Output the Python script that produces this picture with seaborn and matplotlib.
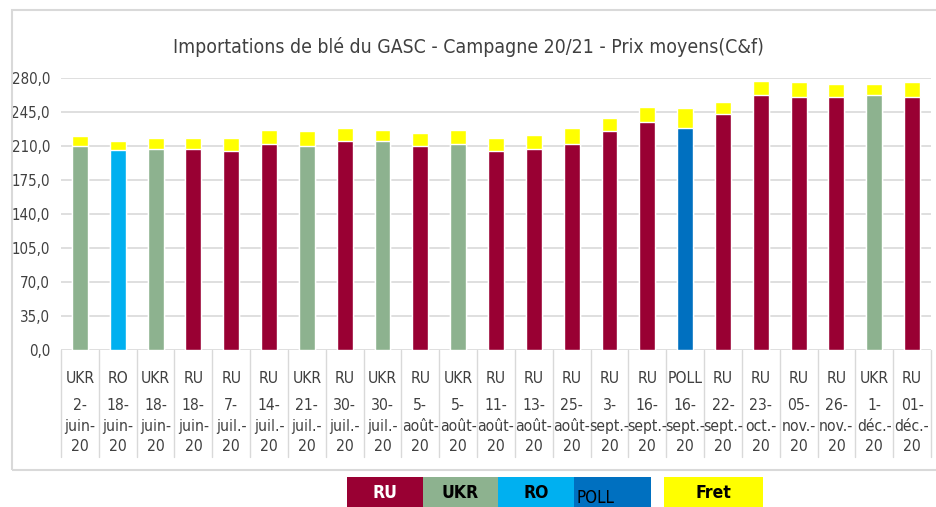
import matplotlib
matplotlib.use('Agg')
import matplotlib.pyplot as plt
from matplotlib import font_manager as fm
from matplotlib.patches import Rectangle
from matplotlib.transforms import blended_transform_factory
import seaborn as sns
import pandas as pd

origins = ['UKR', 'RO', 'UKR', 'RU', 'RU', 'RU', 'UKR', 'RU', 'UKR', 'RU', 'UKR', 'RU',
           'RU', 'RU', 'RU', 'RU', 'POLL', 'RU', 'RU', 'RU', 'RU', 'UKR', 'RU']
dates = ['2-juin-20', '18-juin-20', '18-juin-20', '18-juin-20', '7-juil.-20', '14-juil.-20',
         '21-juil.-20', '30-juil.-20', '30-juil.-20', '5-août-20', '5-août-20', '11-août-20',
         '13-août-20', '25-août-20', '3-sept.-20', '16-sept.-20', '16-sept.-20', '22-sept.-20',
         '23-oct.-20', '05-nov.-20', '26-nov.-20', '1-déc.-20', '01-déc.-20']
prix = [210, 205.5, 207, 207, 205, 211.5, 210, 215, 215, 210, 212, 205,
        207, 211.5, 225, 234.5, 228, 242.5, 262.5, 260.5, 260.5, 262.5, 260.5]
fret = [10, 9.5, 11, 11, 13, 14.5, 15, 13, 11, 13, 14, 13,
        14, 17, 14, 15, 21, 13, 14.5, 15, 13, 11, 15]
yticks = [0, 35, 70, 105, 140, 175, 210, 245, 280]

colors = {'RU': '#990033', 'UKR': '#8db28f', 'RO': '#00b0f0', 'POLL': '#0070c0'}
fret_color = '#ffff00'

sns.set_style('white')

# pick a narrow font if one is around
fonts = fm.fontManager.ttflist
names = {f.name for f in fonts}
stretch = 'normal'
if 'Liberation Sans Narrow' in names:
    fam, k = 'Liberation Sans Narrow', 1.0
elif any(f.name == 'DejaVu Sans' and f.stretch == 'condensed' for f in fonts):
    fam, k, stretch = 'DejaVu Sans', 0.9, 'condensed'
else:
    fam, k = 'Lato', 0.82
plt.rcParams['font.family'] = [fam, 'DejaVu Sans']
plt.rcParams['font.stretch'] = stretch

df = pd.DataFrame({'idx': [str(i) for i in range(len(origins))], 'origin': origins,
                   'prix': prix, 'fret': fret})
df['total'] = df['prix'] + df['fret']
order = list(df['idx'])

fig = plt.figure(figsize=(9.36, 5.07), dpi=100)
ax = fig.add_axes([61 / 936, 1 - 350 / 507, (931 - 61) / 936, (350 - 77.7) / 507])

sns.barplot(data=df, x='idx', y='total', order=order, color=fret_color, saturation=1,
            width=0.42, ax=ax, zorder=2)
sns.barplot(data=df, x='idx', y='prix', order=order, hue='origin', palette=colors,
            dodge=False, saturation=1, width=0.42, legend=False, ax=ax, zorder=3)

ax.set_ylim(0, 280)
ax.set_xlim(-0.5, len(origins) - 0.5)
ax.set_yticks(yticks)
ax.set_yticklabels([f'{v:.1f}'.replace('.', ',') for v in yticks],
                   fontsize=12 * k, color='#404040')
ax.tick_params(axis='y', length=0, pad=8)
ax.set_xticks([])
ax.set_xlabel('')
ax.set_ylabel('')
ax.yaxis.grid(True, color='#d9d9d9', linewidth=1.2)
ax.set_axisbelow(True)
for s in ax.spines.values():
    s.set_visible(False)

# category labels in table form
tr = blended_transform_factory(ax.transData, ax.transAxes)
for i, (o, d) in enumerate(zip(origins, dates)):
    ax.text(i, -0.103, o, transform=tr, ha='center', va='center', fontsize=12.5 * k, color='#404040')
    parts = d.split('-')
    lbl = '\n'.join([parts[0] + '-', parts[1] + '-', parts[2]])
    ax.text(i, -0.28, lbl, transform=tr, ha='center', va='center', fontsize=12.5 * k,
            color='#404040', linespacing=1.33 / k)
for i in range(len(origins) + 1):
    ax.plot([i - 0.5, i - 0.5], [0, -0.393], transform=tr, color='#d9d9d9', lw=1, clip_on=False)

fig.text(468 / 936, 1 - 47 / 507, 'Importations de blé du GASC - Campagne 20/21 - Prix moyens(C&f)',
         ha='center', va='center', fontsize=15.5 * k, color='#404040')

# chart border
fig.patches.append(Rectangle((12 / 936, 1 - 470 / 507), 930 / 936, 460 / 507, transform=fig.transFigure,
                             fill=False, edgecolor='#d9d9d9', lw=1.5))

# legend
leg = [('RU', colors['RU'], 347, 423, 'white', 'bold'),
       ('UKR', colors['UKR'], 423, 498, 'black', 'bold'),
       ('RO', colors['RO'], 498, 574, 'black', 'bold'),
       ('POLL', colors['POLL'], 574, 651, 'black', 'normal'),
       ('Fret', fret_color, 664, 763, 'black', 'bold')]
for name, c, x0, x1, tc, fw in leg:
    fig.patches.append(Rectangle((x0 / 936, 0), (x1 - x0) / 936, 30 / 507,
                                 transform=fig.transFigure, facecolor=c, edgecolor='none'))
    if name == 'POLL':
        fig.text((x0 + 2) / 936, 1 - 498 / 507, name, ha='left', va='center', fontsize=13.5 * k,
                 color=tc, fontweight=fw)
    else:
        fig.text((x0 + x1) / 2 / 936, 1 - 493 / 507, name, ha='center', va='center', fontsize=14 * k,
                 color=tc, fontweight=fw)

fig.savefig('out.png', dpi=100)
